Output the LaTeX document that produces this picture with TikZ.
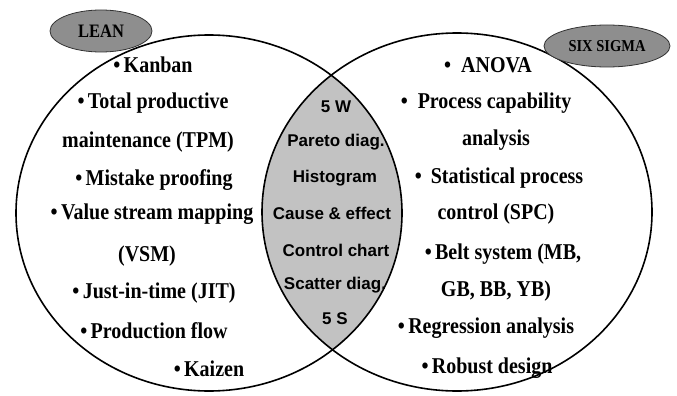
\documentclass[tikz,border=0pt]{standalone}
\usepackage{fontspec}
\usetikzlibrary{shapes.geometric}
\setmainfont{Liberation Serif}
\newfontfamily\arialfont{Liberation Sans}
\newcommand\tl[1]{\scalebox{1}[1.13]{#1}}
\begin{document}
\begin{tikzpicture}[x=1pt,y=-1pt,
  serifitem/.style={font=\fontsize{20}{22}\selectfont\bfseries, inner sep=0pt},
  lensitem/.style={font=\arialfont\fontsize{17}{19}\selectfont\bfseries, inner sep=0pt},
  bigset/.style={draw=black, line width=1.6pt},
  tagell/.style={ellipse, draw=black!80, line width=0.8pt, fill=tagfill, inner sep=0pt},
]
\definecolor{tagfill}{HTML}{8E8E8E}
\definecolor{lensfill}{HTML}{C2C2C2}
\useasboundingbox (0,0) rectangle (677,396);
% lens
\begin{scope}
  \clip (209,213) ellipse [x radius=193, y radius=178];
  \fill[lensfill] (457,212) ellipse [x radius=195, y radius=179];
\end{scope}
\draw[bigset] (209,213) ellipse [x radius=193, y radius=178];
\draw[bigset] (457,212) ellipse [x radius=195, y radius=179];
% tags
\node[tagell, minimum width=102pt, minimum height=42pt, font=\fontsize{16.5}{18}\selectfont\bfseries] (lean) at (101,31) {\scalebox{1}[1.15]{LEAN}};
\node[tagell, minimum width=126pt, minimum height=42pt, font=\fontsize{14.5}{16}\selectfont\bfseries] (sixsigma) at (607,46) {\scalebox{1}[1.15]{SIX SIGMA}};
% left items
\node[serifitem] (l1) at (153,65) {\tl{\textbullet\,Kanban}};
\node[serifitem] (l2) at (153,103) {\tl{\textbullet\,Total productive}};
\node[serifitem] (l3) at (148,142) {\tl{maintenance (TPM)}};
\node[serifitem] (l4) at (154,180) {\tl{\textbullet\,Mistake proofing}};
\node[serifitem] (l5) at (152,214) {\tl{\textbullet\,Value stream mapping}};
\node[serifitem] (l6) at (147,256) {\tl{(VSM)}};
\node[serifitem] (l7) at (154,293) {\tl{\textbullet\,Just-in-time (JIT)}};
\node[serifitem] (l8) at (154,331) {\tl{\textbullet\,Production flow}};
\node[serifitem] (l9) at (209,369) {\tl{\textbullet\,Kaizen}};
% lens items
\node[lensitem] (c1) at (336,107) {5 W};
\node[lensitem] (c2) at (336,142) {Pareto diag.};
\node[lensitem] (c3) at (335,178) {Histogram};
\node[lensitem] (c4) at (332,213) {Cause \& effect};
\node[lensitem] (c5) at (336,250) {Control chart};
\node[lensitem] (c6) at (335,285) {Scatter diag.};
\node[lensitem] (c7) at (335,319) {5 S};
% right items
\node[serifitem] (r1) at (488,65) {\tl{\textbullet\hspace{0.5em}ANOVA}};
\node[serifitem] (r2) at (486,103) {\tl{\textbullet\hspace{0.5em}Process capability}};
\node[serifitem] (r3) at (496,140) {\tl{analysis}};
\node[serifitem] (r4) at (499,178) {\tl{\textbullet\hspace{0.45em}Statistical process}};
\node[serifitem] (r5) at (496,214) {\tl{control (SPC)}};
\node[serifitem] (r6) at (503,254) {\tl{\textbullet\,Belt system (MB,}};
\node[serifitem] (r7) at (496,291) {\tl{GB, BB, YB)}};
\node[serifitem] (r8) at (486,328) {\tl{\textbullet\,Regression analysis}};
\node[serifitem] (r9) at (487,368) {\tl{\textbullet\,Robust design}};
\end{tikzpicture}
\end{document}
